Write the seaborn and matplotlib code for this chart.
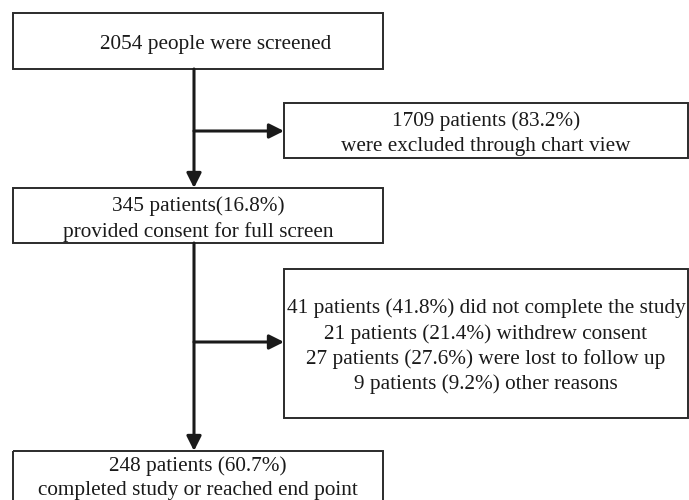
import matplotlib.pyplot as plt
import seaborn as sns
from matplotlib.patches import Rectangle

sns.set_style("white")
plt.rcParams["font.family"] = ["Liberation Serif", "DejaVu Serif"]

# main flow (left column) and exclusions (right column)
main_steps = [
    "2054 people were screened",
    "345 patients(16.8%)\nprovided consent for full screen",
    "248 patients (60.7%)\ncompleted study or reached end point",
]
side_steps = [
    "1709 patients (83.2%)\nwere excluded through chart view",
    "41 patients (41.8%) did not complete the study\n"
    "21 patients (21.4%) withdrew consent\n"
    "27 patients (27.6%) were lost to follow up\n"
    "9 patients (9.2%) other reasons",
]

# box geometry in pixels: (left, top, right, bottom)
main_boxes = [(13, 13, 383, 69), (13, 188, 383, 243), (13, 451, 383, 520)]
main_text_xy = [(216, 44), (198, 219), (198, 478)]
side_boxes = [(284, 103, 688, 158), (284, 269, 688, 418)]
arrow_y = [131, 342]
stem_x = 194

edge = "#2b2b2b"

fig = plt.figure(figsize=(6.89, 5.0), dpi=100)
ax = fig.add_axes([0, 0, 1, 1])
ax.set_xlim(0, 689)
ax.set_ylim(500, 0)
ax.axis("off")

for (l, t, r, b), label, (tx, ty) in zip(main_boxes, main_steps, main_text_xy):
    ax.add_patch(Rectangle((l, t), r - l, b - t, fill=False, ec=edge, lw=1.4))
    ax.text(tx, ty, label, ha="center", va="center",
            fontsize=15.3, linespacing=1.38, color="#1a1a1a")

for (l, t, r, b), label in zip(side_boxes, side_steps):
    ax.add_patch(Rectangle((l, t), r - l, b - t, fill=False, ec=edge, lw=1.4))
    ax.text((l + r) / 2, (t + b) / 2 + 3, label, ha="center", va="center",
            fontsize=15.3, linespacing=1.38, color="#1a1a1a")

arrow_style = dict(arrowstyle="-|>", color="#1a1a1a", lw=2.2,
                   mutation_scale=22, shrinkA=0, shrinkB=0)

# vertical arrows between main boxes
for upper, lower in zip(main_boxes[:-1], main_boxes[1:]):
    ax.annotate("", xy=(stem_x, lower[1]), xytext=(stem_x, upper[3]),
                arrowprops=arrow_style)

# horizontal arrows to exclusion boxes
for y, box in zip(arrow_y, side_boxes):
    ax.annotate("", xy=(box[0], y), xytext=(stem_x, y), arrowprops=arrow_style)

fig.savefig("out.png", dpi=100)
